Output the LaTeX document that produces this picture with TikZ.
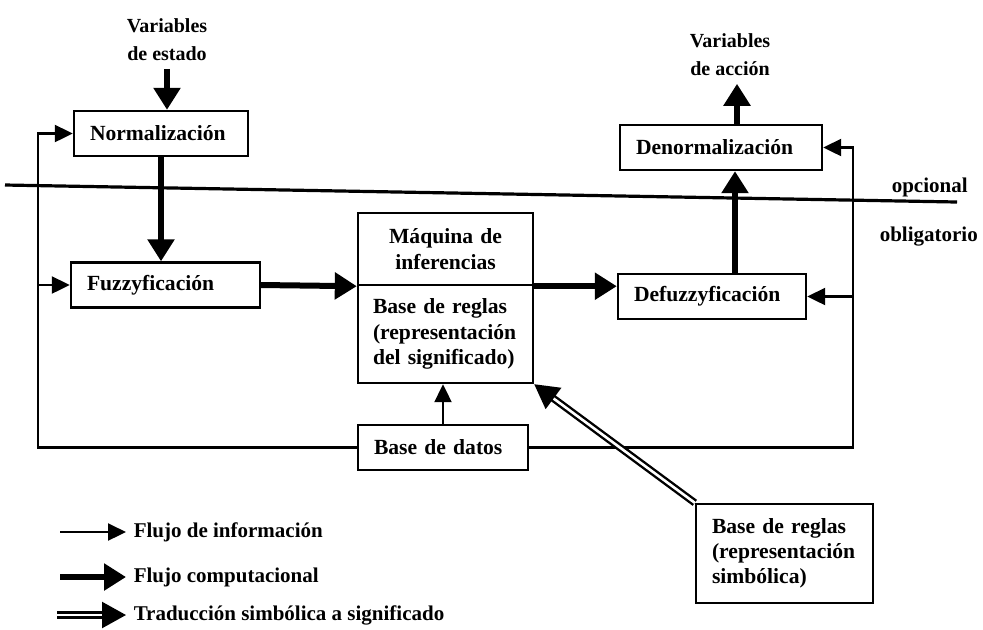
\documentclass[tikz,border=0pt]{standalone}
\usepackage{fontspec}
\setmainfont{Liberation Serif}
\usetikzlibrary{positioning, calc}
\usetikzlibrary{arrows.meta}

\begin{document}
\begin{tikzpicture}[x=0.5pt,y=-0.5pt,line width=1.1pt,draw=black!100]
	\def \boxfont{\bfseries\fontsize{10.8}{12.6}\selectfont}
	\def \annfont{\bfseries\fontsize{10.5}{13}\selectfont}
	\tikzstyle{b-node}=[draw,line width=1.2pt,inner xsep=8pt,inner ysep=0pt,align=left,font=\boxfont,minimum height=22.5pt]
	\tikzstyle{k-node}=[draw,line width=1.2pt,inner xsep=7.5pt,inner ysep=0pt,text width=72.5pt,font=\boxfont]
	\tikzstyle{annot}=[font=\annfont]
	\tikzstyle{vlabel}=[align=center,font=\bfseries\fontsize{10}{14}\selectfont]
	\tikzstyle{info}=[line width=1.1pt,-{Triangle[length=9pt,width=8.5pt]}]
	\tikzstyle{comp}=[line width=3pt,-{Triangle[length=11pt,width=13pt]}]
	\tikzstyle{trad}=[line width=1.2pt,double,double distance=1.3pt,-{Triangle[length=12pt,width=13pt]}]
	\useasboundingbox (0,0) rectangle (983,629);

	% labels
	\node[vlabel] (estado) at (167,40) {Variables\\de estado};
	\node[vlabel] (accion) at (730,55) {Variables\\de acción};
	\node[annot,anchor=west] (opc) at (884,187) {opcional};
	\node[annot,anchor=west] (obl) at (872,237) {obligatorio};

	% optional / mandatory border
	\coordinate (sepL) at (5,185);
	\coordinate (sepR) at (957,202);
	\draw[line width=1.6pt] (sepL) -- (sepR);

	% processing blocks
	\node[b-node,text width=71pt]	(norm)	at (161,133.5)		{Normalización};
	\node[b-node,text width=78.5pt]	(fuzzy)	at (165.5,285)		{Fuzzyficación};
	\node[b-node,text width=78pt]	(defuzzy)	at (712,296.5)	{Defuzzyficación};
	\node[b-node,text width=85pt]	(denorm)	at (721,147.5)	{Denormalización};
	\node[b-node,text width=69pt]	(datos)	at (443,447.5)		{Base de datos};

	% inference machine
	\node[k-node,align=center,minimum height=36pt]	(maq)	at (445.5,249)	{Máquina de\\inferencias};
	\node[k-node,align=left,minimum height=49pt]	(reglas)	at (445.5,334)	{Base de reglas\\(representación\\del significado)};
	\node[k-node,align=left,minimum height=49.5pt,inner xsep=8pt]	(simb)	at (784.5,553.5)	{Base de reglas\\(representación\\simbólica)};

	% computational flow
	\draw[comp] (estado.south) -- (estado.south |- norm.north);
	\draw[comp] (norm.south) -- (norm.south |- fuzzy.north);
	\draw[comp] (fuzzy.east) -- (maq.south west);
	\draw[comp] (maq.south east) -- (maq.south east -| defuzzy.west);
	\draw[comp] ([xshift=11.5pt]defuzzy.north) -- ([xshift=11.5pt]defuzzy.north |- denorm.south);
	\draw[comp] ([xshift=8pt]denorm.north) -- ([xshift=8pt]denorm.north |- accion.south);

	% information flow
	\coordinate (lft) at (38,447.5);
	\coordinate (rgt) at (853,447.5);
	\draw[info] (datos.west) -- (lft) |- (norm.west);
	\draw[info] (lft |- fuzzy.west) -- (fuzzy.west);
	\draw[info] (datos.east) -- (rgt) |- (denorm.east);
	\draw[info] (rgt |- defuzzy.east) -- (defuzzy.east);
	\draw[info] (datos.north) -- (datos.north |- reglas.south);

	% symbolic translation
	\draw[trad] (simb.north west) -- (reglas.south east);

	% legend
	\node[annot,anchor=west] (l-info)	at (126,532)	{Flujo de información};
	\node[annot,anchor=west] (l-comp)	at (126,577)	{Flujo computacional};
	\node[annot,anchor=west] (l-trad)	at (126,615)	{Traducción simbólica a significado};
	\coordinate (s-info) at (60,532);
	\coordinate (s-comp) at (60,577);
	\coordinate (s-trad) at (57,615);
	\draw[info] (s-info) -- (l-info.west);
	\draw[comp] (s-comp) -- (l-comp.west);
	\draw[trad] (s-trad) -- (l-trad.west);
\end{tikzpicture}
\end{document}
